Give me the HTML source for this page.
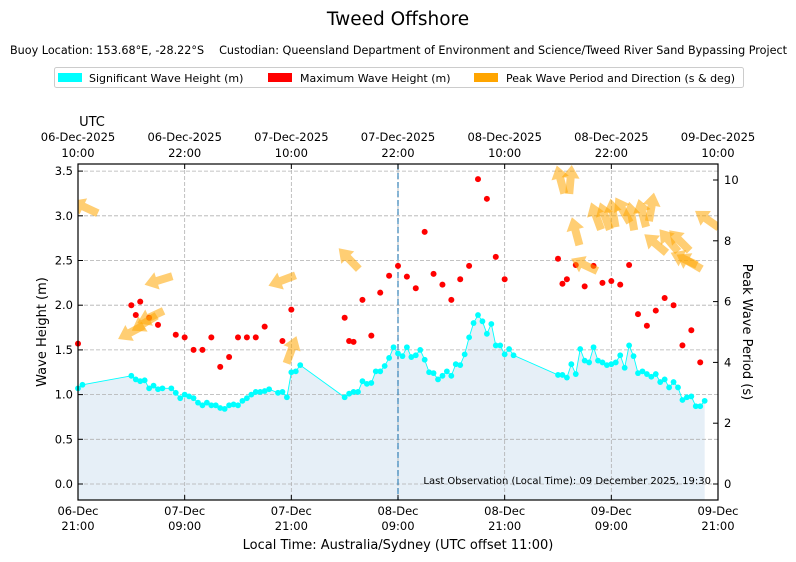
<!DOCTYPE html>
<html><head><meta charset="utf-8">
<style>
body{margin:0;background:#fff;}
svg{display:block;font-family:"DejaVu Sans","Liberation Sans",sans-serif;}
</style></head>
<body>
<svg id="chart" width="796" height="562" viewBox="0 0 796 562" xmlns="http://www.w3.org/2000/svg">
<text x="398" y="25" font-size="18.5" text-anchor="middle">Tweed Offshore</text>
<g>
<text x="10" y="54" font-size="11.2">Buoy Location: 153.68°E, -28.22°S</text>
<text x="787" y="54" font-size="11.2" text-anchor="end">Custodian: Queensland Department of Environment and Science/Tweed River Sand Bypassing Project</text>
</g>
<g>
<rect x="54.5" y="67.5" width="689" height="20" fill="#fff" stroke="#ccc" rx="2"/>
<g><rect x="58" y="73" width="24" height="9" fill="#00ffff"/><text x="89" y="82" font-size="11">Significant Wave Height (m)</text></g>
<g><rect x="268" y="73" width="24" height="9" fill="#ff0000"/><text x="300" y="82" font-size="11">Maximum Wave Height (m)</text></g>
<g><rect x="474" y="73" width="24" height="9" fill="#ffa500"/><text x="506" y="82" font-size="11">Peak Wave Period and Direction (s &amp; deg)</text></g>
</g>
<g id="plot"></g>
</svg>
<script>
const hsT=[0,0.5,6,6.5,7,7.5,8,8.5,9,9.5,10.5,11,11.5,12,12.5,13,13.5,14,14.5,15,15.5,16,16.5,17,17.5,18,18.5,19,19.5,20,20.5,21,21.5,22.5,23,23.5,24,24.5,25,30,30.5,31,31.5,32,32.5,33,33.5,34,34.5,35,35.5,36,36.5,37,37.5,38,38.5,39,39.5,40,40.5,41,41.5,42,42.5,43,43.5,44,44.5,45,45.5,46,46.5,47,47.5,48,48.5,49,54,54.5,55,55.5,56,56.5,57,57.5,58,58.5,59,59.5,60,60.5,61,61.5,62,62.5,63,63.5,64,64.5,65,65.5,66,66.5,67,67.5,68,68.5,69,69.5,70,70.5];
const hsV=[1.07,1.11,1.21,1.17,1.15,1.16,1.07,1.10,1.06,1.07,1.07,1.02,0.96,1.0,0.98,0.96,0.91,0.88,0.91,0.88,0.88,0.85,0.84,0.88,0.89,0.88,0.93,0.96,1.0,1.03,1.03,1.04,1.06,1.02,1.03,0.97,1.25,1.26,1.33,0.97,1.01,1.03,1.03,1.15,1.12,1.13,1.26,1.26,1.32,1.41,1.53,1.46,1.43,1.53,1.42,1.44,1.50,1.39,1.25,1.24,1.17,1.21,1.26,1.21,1.34,1.33,1.45,1.64,1.80,1.89,1.82,1.68,1.79,1.55,1.55,1.45,1.51,1.44,1.22,1.22,1.19,1.34,1.23,1.51,1.38,1.36,1.53,1.38,1.36,1.33,1.34,1.36,1.44,1.30,1.55,1.43,1.24,1.26,1.23,1.20,1.23,1.14,1.17,1.08,1.14,1.08,0.94,0.97,0.98,0.87,0.87,0.93];
const hmT=[0,6,6.5,7,8,9,11,12,13,14,15,16,17,18,19,20,21,23,24,30,30.5,31,32,33,34,35,36,37,38,39,40,41,42,43,44,45,46,47,48,54,54.5,55,56,57,58,59,60,61,62,63,64,65,66,67,68,69,70];
const hmV=[1.57,2.00,1.89,2.04,1.86,1.78,1.67,1.64,1.50,1.50,1.64,1.31,1.42,1.64,1.64,1.64,1.76,1.60,1.95,1.86,1.60,1.59,2.06,1.66,2.14,2.33,2.44,2.32,2.19,2.82,2.35,2.23,2.06,2.29,2.44,3.41,3.19,2.54,2.29,2.52,2.24,2.29,2.45,2.21,2.44,2.25,2.27,2.23,2.45,1.90,1.77,1.94,2.08,2.00,1.55,1.72,1.36];
const tpT=[0.8,9.1,6.0,7.5,8.2,23.0,24.0,30.5,54.3,55.4,56.0,57.0,58.3,59.3,60.2,61.3,62.3,63.5,64.5,65.0,66.5,67.7,68.2,68.8,70.8];
const tpP=[9.1,6.7,5.0,5.3,5.5,6.7,4.4,7.4,10.0,10.0,8.3,7.2,8.8,8.8,8.9,9.0,8.8,8.9,9.1,7.9,8.0,8.0,7.4,7.3,8.7];
const tpD=[295,253,242,239,245,249,20,316,345,5,345,295,340,340,350,330,350,345,10,310,320,315,295,300,305];
const xTickH=[0,12,24,36,48,60,72];
const botDay=["06-Dec","07-Dec","07-Dec","08-Dec","08-Dec","09-Dec","09-Dec"];
const botTime=["21:00","09:00","21:00","09:00","21:00","09:00","21:00"];
const topDay=["06-Dec-2025","06-Dec-2025","07-Dec-2025","07-Dec-2025","08-Dec-2025","08-Dec-2025","09-Dec-2025"];
const topTime=["10:00","22:00","10:00","22:00","10:00","22:00","10:00"];
const yTicks=[0,0.5,1,1.5,2,2.5,3,3.5];
const y2Ticks=[0,2,4,6,8,10];

const L=78,R=718,T=164,B=500;
const X=h=>L+h*(R-L)/72;
const Y=v=>484-v*89.4;
const Y2=v=>484-v*30.4;
const NS='http://www.w3.org/2000/svg';
const g=document.getElementById('plot');
function mk(tag,attrs,parent){const e=document.createElementNS(NS,tag);for(const k in attrs)e.setAttribute(k,attrs[k]);(parent||g).appendChild(e);return e;}

let pts=hsT.map((t,i)=>X(t)+','+Y(hsV[i]));
const fill=mk('polygon',{points:X(hsT[0])+','+B+' '+pts.join(' ')+' '+X(hsT[hsT.length-1])+','+B,fill:'#e6eff7'});


xTickH.forEach((h,i)=>{const l=mk('line',{x1:X(h),x2:X(h),y1:T,y2:B,stroke:'#b0b0b0','stroke-dasharray':'4,2','stroke-width':0.8});

});
yTicks.forEach(v=>{const l=mk('line',{x1:L,x2:R,y1:Y(v),y2:Y(v),stroke:'#b0b0b0','stroke-dasharray':'4,2','stroke-width':0.8});

});
const cur=mk('line',{x1:X(36),x2:X(36),y1:T,y2:B,stroke:'#1f77b4','stroke-dasharray':'6,3','stroke-width':1.3,opacity:0.8});


const hl=mk('polyline',{points:pts.join(' '),fill:'none',stroke:'#00ffff','stroke-width':0.9});


hsT.forEach((t,i)=>{const c=mk('circle',{cx:X(t),cy:Y(hsV[i]),r:2.9,fill:'#00ffff'});

});
hmT.forEach((t,i)=>{const c=mk('circle',{cx:X(t),cy:Y(hmV[i]),r:3,fill:'#ff0000'});

});
const clip=mk('clipPath',{id:'pc'});mk('rect',{x:L,y:T,width:R-L,height:B-T},clip);
const ag=mk('g',{'clip-path':'url(#pc)'});
tpT.forEach((t,i)=>{
  const a=mk('polygon',{points:'-4,14 4,14 4,-2 9,-2 0,-15 -9,-2 -4,-2',fill:'#ffa500','fill-opacity':0.55,
   transform:`translate(${X(t)},${Y2(tpP[i])}) rotate(${tpD[i]})`},ag);
  
  
});
const fr=mk('rect',{x:L,y:T,width:R-L,height:B-T,fill:'none',stroke:'#000','stroke-width':1.2});


xTickH.forEach((h,i)=>{
  mk('line',{x1:X(h),x2:X(h),y1:B,y2:B-5,stroke:'#000'});
  mk('line',{x1:X(h),x2:X(h),y1:T,y2:T+5,stroke:'#000'});
  const a=mk('text',{x:X(h),y:515,'font-size':11.5,'text-anchor':'middle'});a.textContent=botDay[i];
  
  
  const b=mk('text',{x:X(h),y:530,'font-size':11.5,'text-anchor':'middle'});b.textContent=botTime[i];
  
  
  const c=mk('text',{x:X(h),y:141,'font-size':11.5,'text-anchor':'middle'});c.textContent=topDay[i];
  
  
  const d=mk('text',{x:X(h),y:157,'font-size':11.5,'text-anchor':'middle'});d.textContent=topTime[i];
  
  
});
yTicks.forEach(v=>{
  mk('line',{x1:L,x2:L+5,y1:Y(v),y2:Y(v),stroke:'#000'});
  const t=mk('text',{x:73,y:Y(v)+4,'font-size':11.5,'text-anchor':'end'});t.textContent=v.toFixed(1);
  
  
});
y2Ticks.forEach(v=>{
  mk('line',{x1:R-5,x2:R,y1:Y2(v),y2:Y2(v),stroke:'#000'});
  const t=mk('text',{x:724,y:Y2(v)+4,'font-size':11.5});t.textContent=v;
  
  
});
</script>
<svg style="position:absolute;left:0;top:0" width="796" height="562" xmlns="http://www.w3.org/2000/svg">
<text x="92" y="126" font-size="13" text-anchor="middle">UTC</text>
<text x="711" y="484" font-size="10" text-anchor="end">Last Observation (Local Time): 09 December 2025, 19:30</text>
<text x="398" y="549" font-size="13" text-anchor="middle">Local Time: Australia/Sydney (UTC offset 11:00)</text>
<text transform="translate(46,332) rotate(-90)" font-size="13" text-anchor="middle">Wave Height (m)</text>
<text transform="translate(743,332) rotate(90)" font-size="13" text-anchor="middle">Peak Wave Period (s)</text>
</svg>
</body></html>
